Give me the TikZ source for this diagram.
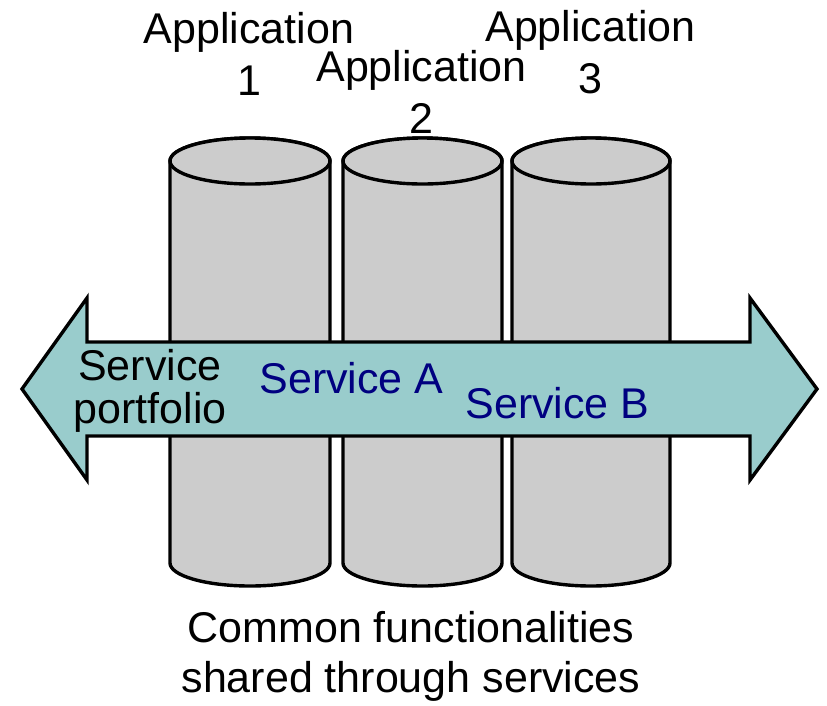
\documentclass[tikz,border=0pt]{standalone}
\usepackage{fontspec}
\setmainfont{Liberation Sans}
\definecolor{cylgray}{RGB}{204,204,204}
\definecolor{arrowteal}{RGB}{153,204,204}
\definecolor{svcnavy}{RGB}{0,0,128}
\begin{document}
\begin{tikzpicture}[x=1pt,y=-1pt,
  cyl/.style={fill=cylgray,draw=black,line width=3.4pt},
  bigarrow/.style={fill=arrowteal,draw=black,line width=3.4pt,line join=miter},
  lbl/.style={inner sep=0pt,align=center,anchor=base,font=\fontsize{43}{52}\selectfont},
  svc/.style={inner sep=0pt,anchor=base,font=\fontsize{43}{52}\selectfont,text=svcnavy}]
\useasboundingbox (0,0) rectangle (827,705);

% three application cylinders: centre x, half width
\foreach \cx/\rx [count=\i] in {250/80,422.5/79.5,591/79}{
  \path[cyl] (\cx-\rx,161) -- (\cx-\rx,563) arc[start angle=180,end angle=360,x radius=\rx,y radius=-23]
    -- (\cx+\rx,161) arc[start angle=0,end angle=180,x radius=\rx,y radius=-23] -- cycle;
  \path[cyl] (\cx,161) ellipse[x radius=\rx,y radius=23];
  \coordinate (top\i) at (\cx,161);
}

% application labels (anchored on the baseline of their last line)
\node[lbl] (app1) at (249,95) {Application\\1};
\node[lbl] (app2) at (421.5,133) {Application\\2};
\node[lbl] (app3) at (590.5,93) {Application\\3};

% double-headed arrow of the service portfolio
\path[bigarrow] (22,389) -- (87,298) -- (87,342) -- (750,342) -- (750,298)
  -- (817,389) -- (750,480) -- (750,436) -- (87,436) -- (87,480) -- cycle;

\node[inner sep=0pt,align=center,anchor=base,font=\fontsize{43}{43}\selectfont] (portfolio) at (150,423) {Service\\portfolio};
\node[svc] (svcA) at (351.5,393) {Service A};
\node[svc] (svcB) at (557.5,418) {Service B};

% caption
\node[lbl,font=\fontsize{43}{50}\selectfont] (caption) at (411,692) {Common functionalities\\shared through services};
\end{tikzpicture}
\end{document}
